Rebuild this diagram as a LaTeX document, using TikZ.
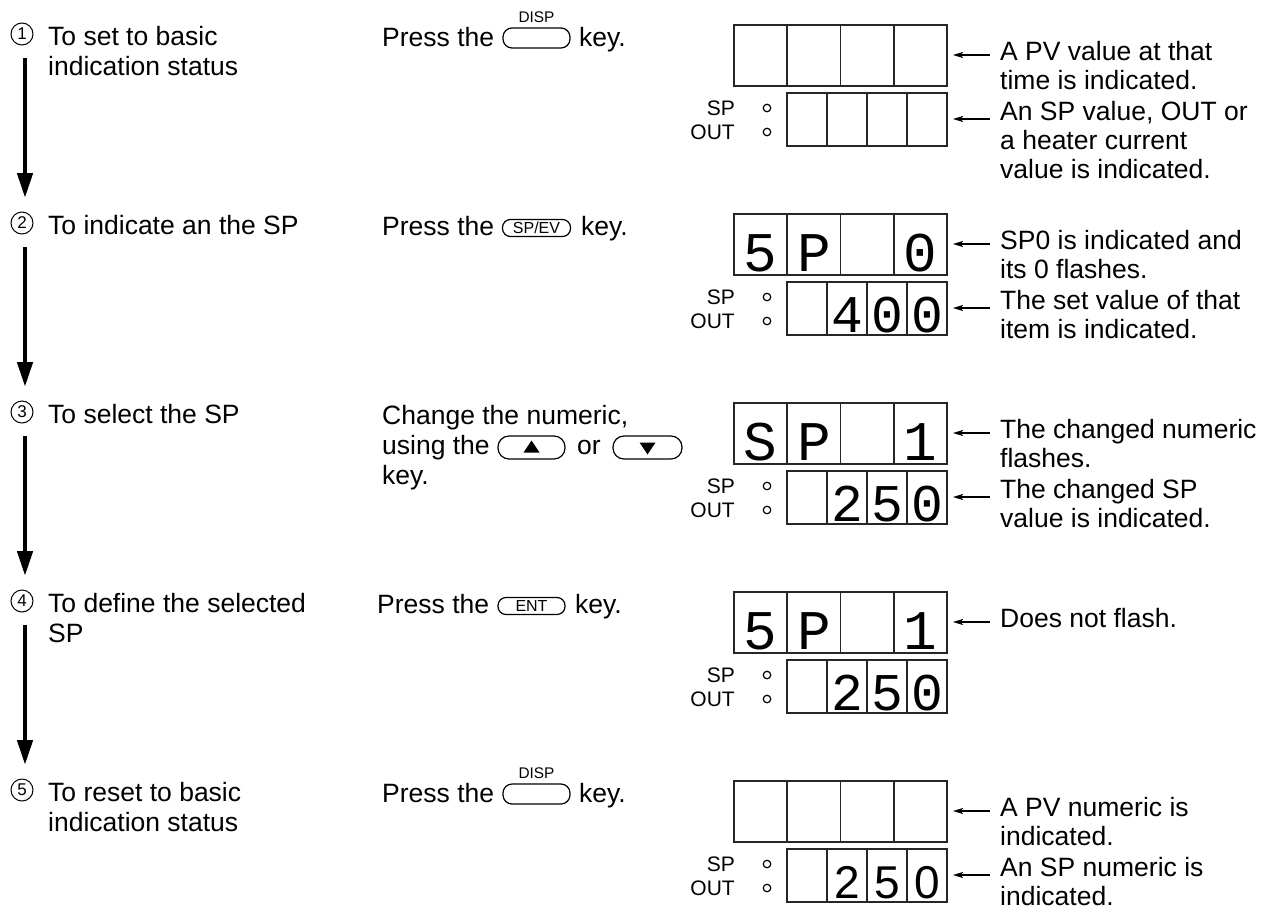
\documentclass[tikz,border=0pt]{standalone}
\usepackage{fontspec}
\setmainfont{Liberation Sans}
\newfontfamily\dmono{Liberation Mono}
\usetikzlibrary{arrows.meta}
\newcommand{\mylines}[1]{\begin{tabular}[t]{@{}l@{}}#1\end{tabular}}
\newcommand{\dispanel}[2]{%
 \begin{scope}[shift={(0,#2)}]
  \node[disp, minimum width=213pt, minimum height=61pt] (top#1) at (840.5,55.5) {};
  \draw[dline] (787.25,25) -- (787.25,86) (840.5,25) -- (840.5,86) (893.75,25) -- (893.75,86);
  \node[disp, minimum width=160pt, minimum height=53pt] (bot#1) at (867,119.5) {};
  \draw[dline] (827,93) -- (827,146) (867,93) -- (867,146) (907,93) -- (907,146);
  \node[led] (ledsp#1) at (767,108) {};
  \node[led] (ledout#1) at (767,132) {};
  \node[small, anchor=base east] (lsp#1) at (735,115.5) {SP};
  \node[small, anchor=base east] (lout#1) at (735,139.5) {OUT};
 \end{scope}}
\begin{document}
\begin{tikzpicture}[x=1pt,y=-1pt,
  txt/.style={font=\fontsize{26.5}{30}\selectfont, inner sep=0pt, anchor=base west},
  rtxt/.style={font=\fontsize{26.5}{29}\selectfont, inner sep=0pt, anchor=base west},
  small/.style={font=\fontsize{21}{21}\selectfont, inner sep=0pt},
  disp/.style={draw=black!85, line width=1.8pt, inner sep=0pt},
  dline/.style={draw=black!85, line width=1.8pt},
  led/.style={circle, draw, line width=1.2pt, minimum size=7.5pt, inner sep=0pt},
  circ/.style={circle, draw, line width=1pt, minimum size=22pt, inner sep=0pt, font=\fontsize{17}{17}\selectfont},
  keyb/.style={draw, line width=1.2pt, rounded corners=9pt, inner sep=0pt},
  flow/.style={line width=4.5pt, -{Triangle[length=25pt,width=15pt]}},
  ptr/.style={line width=1.3pt, -{Stealth[length=10pt,width=6pt,inset=2pt]}},
  dig/.style={font=\dmono\fontsize{56}{56}\selectfont, inner sep=0pt, anchor=base},
  digb/.style={font=\dmono\fontsize{53}{53}\selectfont, inner sep=0pt, anchor=base},
  digs/.style={font=\fontsize{46}{46}\selectfont, inner sep=0pt, anchor=base},
  ]
\useasboundingbox (0,0) rectangle (1274,916);

% ---------- left column ----------
\node[circ] (n1) at (22,34) {1};
\node[txt] (s1) at (48,45) {\mylines{To set to basic\\indication status}};
\node[circ] (n2) at (22,223) {2};
\node[txt] (s2) at (48,234) {To indicate an the SP};
\node[circ] (n3) at (22,412) {3};
\node[txt] (s3) at (48,423) {To select the SP};
\node[circ] (n4) at (22,601) {4};
\node[txt] (s4) at (48,612) {\mylines{To define the selected\\SP}};
\node[circ] (n5) at (22,790) {5};
\node[txt] (s5) at (48,801) {\mylines{To reset to basic\\indication status}};

\coordinate (f1a) at (25,58);  \coordinate (f1b) at (25,198);
\coordinate (f2a) at (25,247); \coordinate (f2b) at (25,387);
\coordinate (f3a) at (25,436); \coordinate (f3b) at (25,576);
\coordinate (f4a) at (25,625); \coordinate (f4b) at (25,765);
\draw[flow] (f1a) -- (f1b);
\draw[flow] (f2a) -- (f2b);
\draw[flow] (f3a) -- (f3b);
\draw[flow] (f4a) -- (f4b);

% ---------- middle column ----------
\node[txt] (m1) at (382,46) {Press the};
\node[keyb, minimum width=67pt, minimum height=20pt] (k1) at (536.5,38) {};
\node[font=\fontsize{15.4}{15.4}\selectfont, inner sep=0pt] (k1l) at (536.5,17) {DISP};
\node[txt] (m1k) at (579,46) {key.};

\node[txt] (m2) at (382,235) {Press the};
\node[keyb, minimum width=68pt, minimum height=17pt, rounded corners=8pt, font=\fontsize{16}{16}\selectfont] (k2) at (536.5,228) {SP/EV};
\node[txt] (m2k) at (581,235) {key.};

\node[txt] (m3a) at (382,424) {Change the numeric,};
\node[txt] (m3b) at (382,454) {using the};
\node[keyb, minimum width=67pt, minimum height=23pt, rounded corners=11pt] (k3u) at (531.5,447.5) {};
\fill ([xshift=-8pt,yshift=-5pt]k3u.center) -- ([xshift=8pt,yshift=-5pt]k3u.center) -- ([yshift=7pt]k3u.center) -- cycle;
\node[txt] (m3or) at (577,454) {or};
\node[keyb, minimum width=69pt, minimum height=23pt, rounded corners=11pt] (k3d) at (647.5,447.5) {};
\fill ([xshift=-8pt,yshift=5pt]k3d.center) -- ([xshift=8pt,yshift=5pt]k3d.center) -- ([yshift=-7pt]k3d.center) -- cycle;
\node[txt] (m3c) at (382,484) {key.};

\node[txt] (m4) at (377,613) {Press the};
\node[keyb, minimum width=67pt, minimum height=17pt, rounded corners=8pt, font=\fontsize{16}{16}\selectfont] (k4) at (531.5,606) {ENT};
\node[txt] (m4k) at (575,613) {key.};

\node[txt] (m5) at (382,802) {Press the};
\node[keyb, minimum width=67pt, minimum height=20pt] (k5) at (536.5,794) {};
\node[font=\fontsize{15.4}{15.4}\selectfont, inner sep=0pt] (k5l) at (536.5,773) {DISP};
\node[txt] (m5k) at (579,802) {key.};

% ---------- displays ----------
\dispanel{1}{0}
\dispanel{2}{189}
\dispanel{3}{378}
\dispanel{4}{567}
\dispanel{5}{756}

% panel 2 digits
\node[dig] (p2t1) at (760.6,271) {5};
\node[dig] (p2t2) at (813.9,271) {P};
\node[dig] (p2t4) at (920.4,271) {0};
\node[digb] (p2b2) at (847,332) {4};
\node[digb] (p2b3) at (887,332) {0};
\node[digb] (p2b4) at (927,332) {0};
% panel 3 digits
\node[dig] (p3t1) at (760.6,460) {S};
\node[dig] (p3t2) at (813.9,460) {P};
\node[dig] (p3t4) at (920.4,460) {1};
\node[digb] (p3b2) at (847,521) {2};
\node[digb] (p3b3) at (887,521) {5};
\node[digb] (p3b4) at (927,521) {0};
% panel 4 digits
\node[dig] (p4t1) at (760.6,649) {5};
\node[dig] (p4t2) at (813.9,649) {P};
\node[dig] (p4t4) at (920.4,649) {1};
\node[digb] (p4b2) at (847,710) {2};
\node[digb] (p4b3) at (887,710) {5};
\node[digb] (p4b4) at (927,710) {0};
% panel 5 digits
\node[digs] (p5b2) at (847,898) {2};
\node[digs] (p5b3) at (887,898) {5};
\node[digs] (p5b4) at (927,898) {0};

% ---------- right column ----------
\coordinate (r1a) at (990,55);  \coordinate (r1ae) at (953,55);
\coordinate (r1b) at (990,119); \coordinate (r1be) at (953,119);
\draw[ptr] (r1a) -- (r1ae);
\draw[ptr] (r1b) -- (r1be);
\node[rtxt] (t1a) at (1000,60) {\mylines{A PV value at that\\time is indicated.}};
\node[rtxt] (t1b) at (1000,120) {\mylines{An SP value, OUT or\\a heater current\\value is indicated.}};

\coordinate (r2a) at (990,244); \coordinate (r2ae) at (953,244);
\coordinate (r2b) at (990,308); \coordinate (r2be) at (953,308);
\draw[ptr] (r2a) -- (r2ae);
\draw[ptr] (r2b) -- (r2be);
\node[rtxt] (t2a) at (1000,249) {\mylines{SP0 is indicated and\\its 0 flashes.}};
\node[rtxt] (t2b) at (1000,309) {\mylines{The set value of that\\item is indicated.}};

\coordinate (r3a) at (990,433); \coordinate (r3ae) at (953,433);
\coordinate (r3b) at (990,497); \coordinate (r3be) at (953,497);
\draw[ptr] (r3a) -- (r3ae);
\draw[ptr] (r3b) -- (r3be);
\node[rtxt] (t3a) at (1000,438) {\mylines{The changed numeric\\flashes.}};
\node[rtxt] (t3b) at (1000,498) {\mylines{The changed SP\\value is indicated.}};

\coordinate (r4a) at (990,622); \coordinate (r4ae) at (953,622);
\draw[ptr] (r4a) -- (r4ae);
\node[rtxt] (t4a) at (1000,627) {Does not flash.};

\coordinate (r5a) at (990,811); \coordinate (r5ae) at (953,811);
\coordinate (r5b) at (990,875); \coordinate (r5be) at (953,875);
\draw[ptr] (r5a) -- (r5ae);
\draw[ptr] (r5b) -- (r5be);
\node[rtxt] (t5a) at (1000,816) {\mylines{A PV numeric is\\indicated.}};
\node[rtxt] (t5b) at (1000,876) {\mylines{An SP numeric is\\indicated.}};
\end{tikzpicture}
\end{document}
